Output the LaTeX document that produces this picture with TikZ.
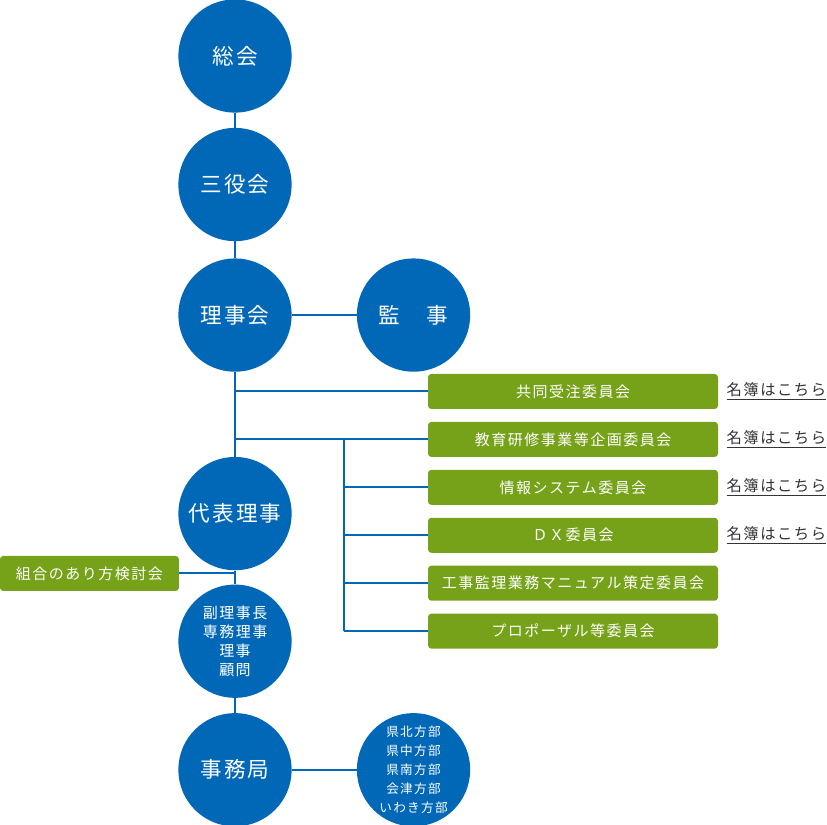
\documentclass[tikz,border=0pt]{standalone}
\usepackage{fontspec}
\setmainfont{Noto Sans CJK JP}
\usepackage{tikz}
\usetikzlibrary{positioning, calc}
\definecolor{orgblue}{RGB}{0, 104, 183}
\definecolor{orggreen}{RGB}{118, 162, 26}
\definecolor{linkgray}{RGB}{51, 51, 51}
\newcommand{\circlefont}{\fontsize{16.2pt}{19pt}\selectfont\addfontfeature{LetterSpace=10}}
\newcommand{\smallfont}{\fontsize{11.25pt}{14.25pt}\selectfont\addfontfeature{LetterSpace=10}}
\newcommand{\listfont}{\fontsize{11.5pt}{14.25pt}\selectfont\addfontfeature{LetterSpace=10}}
\newcommand{\tinyfont}{\fontsize{9.5pt}{14.25pt}\selectfont\addfontfeature{LetterSpace=10}}
\tikzstyle{board} = [circle, fill=orgblue, text=white, minimum size=85pt, inner sep=0pt, align=center, font=\circlefont]
\tikzstyle{committee} = [rectangle, rounded corners=2.5pt, fill=orggreen, text=white, minimum width=217.5pt, minimum height=26.25pt, inner sep=0pt, font=\smallfont]
\tikzstyle{member} = [inner sep=0pt, text=linkgray, font=\listfont]
\tikzstyle{link} = [orgblue, line width=1.5pt]

\begin{document}
\begin{tikzpicture}

\useasboundingbox (0,0) rectangle (620.25pt,-618pt);

% Main column
\node[board] (soukai) at (176.25pt,-42pt) {総会};
\node[board, below=11pt of soukai] (sanyaku) {三役会};
\node[board, below=12.5pt of sanyaku] (rijikai) {理事会};
\node[board, right=48.5pt of rijikai] (kanji) {監　事};
\node[board, below=63.5pt of rijikai] (daihyo) {代表理事};
\node[board, below=10.3pt of daihyo, font=\smallfont] (fuku) {副理事長\\専務理事\\理事\\顧問};
\node[board, below=11pt of fuku] (jimu) {事務局};
\node[board, right=48.5pt of jimu, font=\tinyfont] (hobu) {県北方部\\県中方部\\県南方部\\会津方部\\いわき方部};

% Committees
\node[committee] (c1) at (429.75pt,-293.6pt) {共同受注委員会};
\node[committee, below=9.3pt of c1] (c2) {教育研修事業等企画委員会};
\node[committee, below=9.3pt of c2] (c3) {情報システム委員会};
\node[committee, below=9.3pt of c3] (c4) {ＤＸ委員会};
\node[committee, below=9.3pt of c4] (c5) {工事監理業務マニュアル策定委員会};
\node[committee, below=9.3pt of c5] (c6) {プロポーザル等委員会};
\node[committee, minimum width=134.25pt] (kumiai) at (67.1pt,-430.1pt) {組合のあり方検討会};

% Member lists
\foreach \c in {c1,c2,c3,c4}
  \node[member, right=6pt of \c] (m\c) {\underline{名簿はこちら}};

% Branch line
\coordinate (branch) at (258pt,0);

% Links
\draw[link] (soukai) -- (sanyaku);
\draw[link] (sanyaku) -- (rijikai);
\draw[link] (rijikai) -- (kanji);
\draw[link] (rijikai) -- (daihyo);
\draw[link] (daihyo) -- (fuku);
\draw[link] (fuku) -- (jimu);
\draw[link] (jimu) -- (hobu);
\draw[link] (rijikai |- c1) -- (c1);
\draw[link] (rijikai |- c2) -- (c2);
\draw[link] (branch |- c2) -- (branch |- c6);
\foreach \c in {c3,c4,c5,c6}
  \draw[link] (branch |- \c) -- (\c);
\draw[link] (kumiai) -- (daihyo |- kumiai);

\end{tikzpicture}
\end{document}
